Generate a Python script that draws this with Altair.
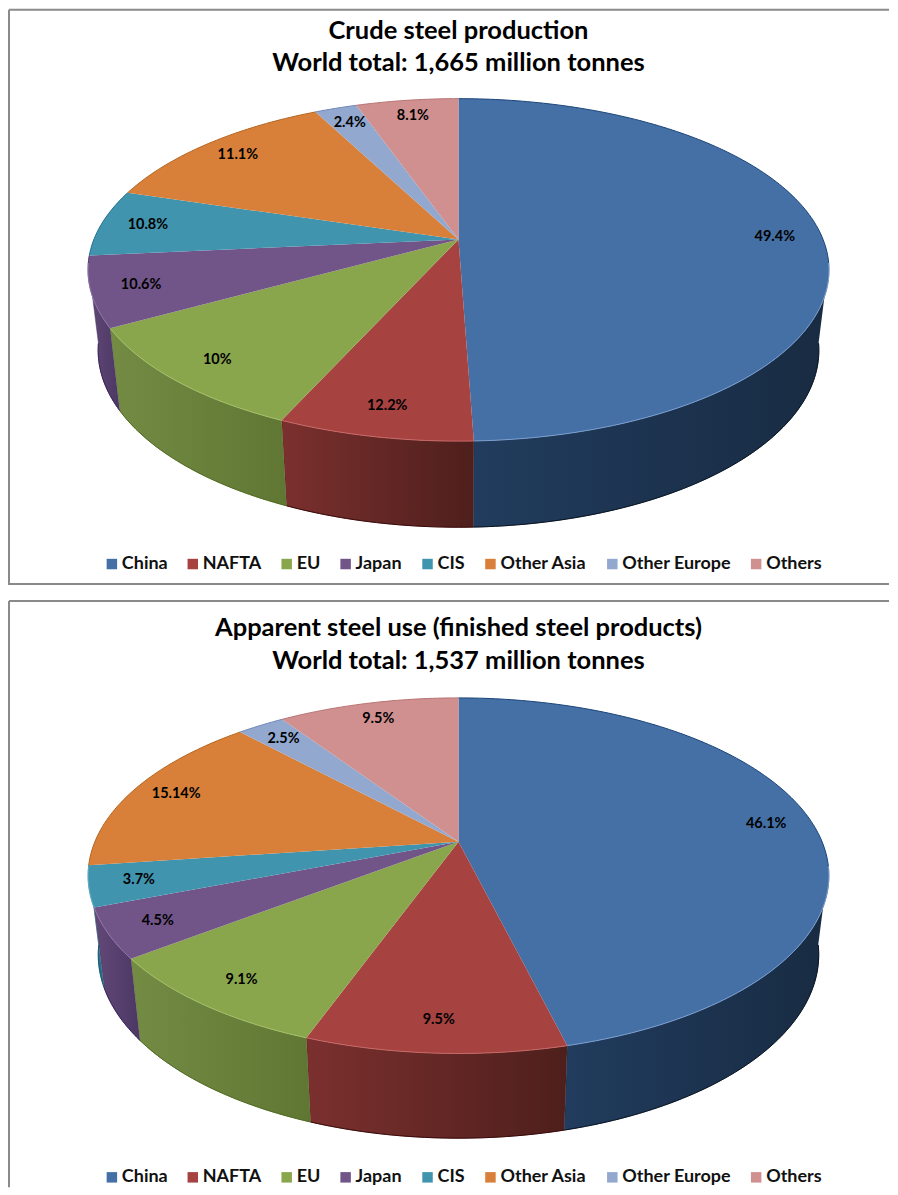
import math
import altair as alt
import pandas as pd

categories = ["China", "NAFTA", "EU", "Japan", "CIS", "Other Asia", "Other Europe", "Others"]
top_colors = ["#4470A6", "#A64240", "#8AA64D", "#715589", "#4094AE", "#D8803A", "#92A8CF", "#D09090"]
wall_left = ["#213C5E", "#7B302E", "#738B43", "#624878", "#2F8099", "#A8602A", "#7080A0", "#A07070"]
wall_right = ["#182B42", "#4E1F1C", "#5F7733", "#4C3864", "#276C82", "#A8602A", "#7080A0", "#A07070"]
rim_back = ["#1C4478", "#7A2826", "#66822E", "#4E3270", "#1F6F8C", "#B5651F", "#6F88B8", "#B87272"]
rim_front = ["#7BA0D0", "#C86A68", "#A5C068", "#8F74A8", "#62B0C8", "#E8A060", "#B0C2E0", "#E0B0B0"]
rim_low = ["#06121F", "#3A0808", "#4F6A20", "#35205A", "#125A72", "#8A4A18", "#5A6A90", "#8A5A5A"]

# Slice sizes as drawn, and the labels as printed (the upper chart's labels differ from its slices)
crude_drawn = [49.4, 7.2, 10.2, 6.6, 6.3, 12.7, 2.2, 5.3]
crude_labels = ["49.4%", "12.2%", "10%", "10.6%", "10.8%", "11.1%", "2.4%", "8.1%"]
use_drawn = [46.1, 9.5, 9.1, 4.5, 3.7, 15.14, 2.5, 9.5]
use_labels = ["46.1%", "9.5%", "9.1%", "4.5%", "3.7%", "15.14%", "2.5%", "9.5%"]

crude_title = ["Crude steel production", "World total: 1,665 million tonnes"]
use_title = ["Apparent steel use (finished steel products)", "World total: 1,537 million tonnes"]

FONT = "Lato"
X_MIN, X_MAX = 8, 890
FRONT_START, FRONT_END = 98, 262


def project(theta, r, g, lower=False):
    u, v = r * math.sin(theta), r * math.cos(theta)
    d = 1 + g["k"] * v
    if lower:
        return g["cx"] + g["b2"] * u / d, g["vy2"] - g["a2"] * v / d
    return g["cx"] + g["b"] * u / d, g["vy"] - g["a"] * v / d


def sweep(a0, a1):
    m = max(2, int(a1 - a0) + 2)
    return [a0 + (a1 - a0) * i / (m - 1) for i in range(m)]


def build(shares, labels, g):
    total = sum(shares)
    tops, walls, texts, rims = [], [], [], []
    start = 0.0
    for idx, (cat, s, lab) in enumerate(zip(categories, shares, labels)):
        end = start + s / total * 360
        arc = sweep(start, end)
        pts = [(g["cx"], g["vy"])] + [project(math.radians(a), 1, g) for a in arc]
        for i, (x, y) in enumerate(pts):
            tops.append({"cat": cat, "o": i, "x": x, "y": y})
        a0, a1 = max(start, FRONT_START), min(end, FRONT_END)
        if a1 > a0:
            wa = sweep(a0, a1)
            pts = [project(math.radians(a), 1, g) for a in wa]
            pts += [project(math.radians(a), 1, g, True) for a in reversed(wa)]
            for i, (x, y) in enumerate(pts):
                walls.append({"cat": cat, "o": i, "x": x, "y": y})
            for i, a in enumerate(wa):
                x, y = project(math.radians(a), 1, g)
                rims.append({"seg": f"{cat}-f", "o": i, "x": x, "y": y, "c": rim_front[idx]})
                x, y = project(math.radians(a), 1, g, True)
                rims.append({"seg": f"{cat}-l", "o": i, "x": x, "y": y, "c": rim_low[idx]})
        for tag, b0, b1 in (("a", start, min(end, FRONT_START)), ("b", max(start, FRONT_END), end)):
            if b1 > b0:
                for i, a in enumerate(sweep(b0, b1)):
                    x, y = project(math.radians(a), 1, g)
                    rims.append({"seg": f"{cat}-{tag}", "o": i, "x": x, "y": y, "c": rim_back[idx]})
        lx, ly = project(math.radians((start + end) / 2), 0.87, g)
        texts.append({"cat": cat, "label": lab, "x": lx, "y": ly})
        start = end
    return pd.DataFrame(tops), pd.DataFrame(walls), pd.DataFrame(texts), pd.DataFrame(rims)


def panel(shares, labels, g, title, y0, y1, legend_y, title_y, closed):
    tops, walls, texts, rims = build(shares, labels, g)
    xs = alt.Scale(domain=[X_MIN, X_MAX], nice=False, zero=False)
    ys = alt.Scale(domain=[y1, y0], nice=False, zero=False)
    X = alt.X("x:Q", scale=xs, axis=None)
    Y = alt.Y("y:Q", scale=ys, axis=None)
    layers = []
    # frame of the panel
    frame = [{"x": X_MIN + 1, "x2": X_MIN + 1, "y": y0 + 1, "y2": y1},
             {"x": X_MIN + 1, "x2": X_MAX, "y": y0 + 1, "y2": y0 + 1}]
    if closed:
        frame.append({"x": X_MIN + 1, "x2": X_MAX, "y": y1 - 1, "y2": y1 - 1})
    layers.append(alt.Chart(pd.DataFrame(frame)).mark_rule(color="#8a8a8a", strokeWidth=2)
                  .encode(x=X, x2="x2:Q", y=Y, y2="y2:Q"))
    for i, cat in enumerate(categories):
        w = walls[walls.cat == cat]
        if len(w):
            grad = alt.LinearGradient(
                gradient="linear", x1=0, x2=1, y1=0, y2=0,
                stops=[alt.GradientStop(color=wall_left[i], offset=0),
                       alt.GradientStop(color=wall_right[i], offset=1)])
            layers.append(alt.Chart(w).mark_line(fill=grad, stroke=wall_right[i], strokeWidth=0.5)
                          .encode(x=X, y=Y, order="o:Q"))
    color = alt.Color("cat:N", scale=alt.Scale(domain=categories, range=top_colors),
                      legend=alt.Legend(orient="none", legendX=95, legendY=legend_y, columns=8,
                                        title=None, symbolType="square", symbolSize=110,
                                        symbolStrokeWidth=0, columnPadding=16, labelOffset=1,
                                        labelFont=FONT, labelFontWeight="bold", labelFontSize=18,
                                        labelColor="#111111", labelLimit=200))
    layers.append(alt.Chart(tops).mark_line(filled=True, strokeWidth=0)
                  .encode(x=X, y=Y, order="o:Q", fill=color, detail="cat:N"))
    layers.append(alt.Chart(rims).mark_line(strokeWidth=1)
                  .encode(x=X, y=Y, order="o:Q", detail="seg:N",
                          stroke=alt.Stroke("c:N", scale=None)))
    layers.append(alt.Chart(texts).mark_text(font=FONT, fontWeight="bold", fontSize=14.5, color="#000000")
                  .encode(x=X, y=Y, text="label:N"))
    heads = pd.DataFrame({"line": title, "x": [g["cx"]] * 2, "y": title_y})
    layers.append(alt.Chart(heads).mark_text(font=FONT, fontWeight="bold", fontSize=25.5, color="#000000",
                                             baseline="alphabetic")
                  .encode(x=X, y=Y, text="line:N"))
    return alt.layer(*layers).properties(width=X_MAX - X_MIN, height=y1 - y0)


g1 = dict(cx=459, vy=239, k=0.178, a=166, b=365, vy2=318.5, a2=171.5, b2=355)
g2 = dict(cx=459, vy=841, k=0.191, a=171.5, b=364, vy2=919, a2=177, b2=354)

p1 = panel(crude_drawn, crude_labels, g1, crude_title, 8, 585, 547, [38, 70], True)
p2 = panel(use_drawn, use_labels, g2, use_title, 599, 1187, 569, [635, 668], False)

chart = alt.vconcat(p1, p2, spacing=14).resolve_scale(fill="independent").resolve_legend(
    fill="independent"
).properties(padding=0, background="white").configure_view(stroke=None)

chart.save("out.html", embed_options={"renderer": "svg", "actions": False})
